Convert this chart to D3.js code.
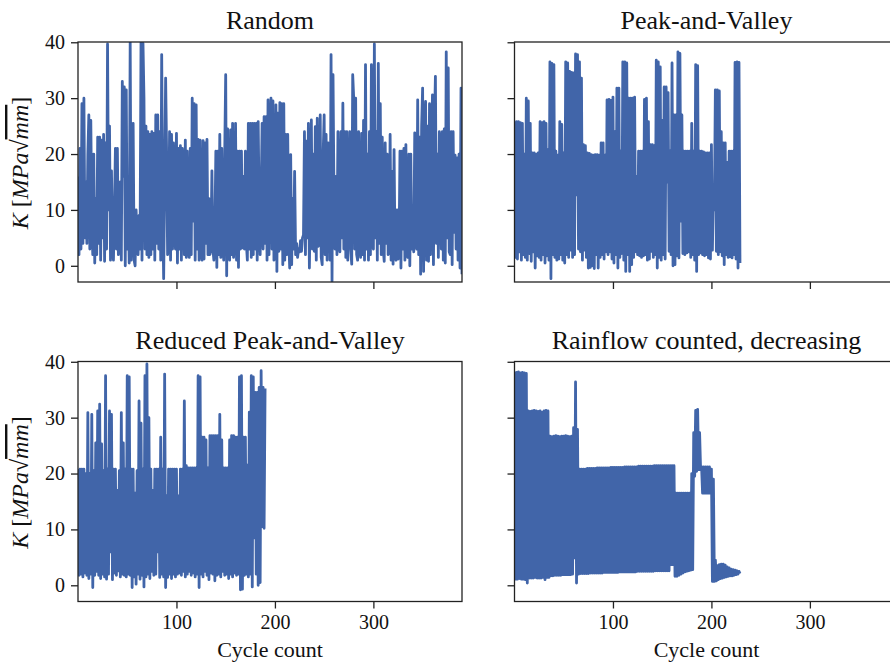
<!DOCTYPE html>
<html>
<head>
<meta charset="utf-8">
<script src="https://cdn.jsdelivr.net/npm/d3@7"></script>
<style>
  body { margin: 0; background: #fff; }
  text { font-family: "Liberation Serif", "DejaVu Serif", serif; fill: #111; }
</style>
</head>
<body>
<div id="chart"></div>
<script>
// load history, one value per cycle
const randomLoad = [
  16, 2, 21, 3, 29, 4, 30, 5, 15, 4,
  20, 27, 3, 26, 8, 2, 20, 0.5, 12, 2,
  23, 4, 23, 1, 22.5, 5, 23.5, 0.8, 22, 3,
  39.7, 10, 25, 1, 17, 4, 1, 10, 21, 3,
  21, 2, 4, 15, 1, 33, 16, 32, 0, 31.5,
  3, 12, 0.5, 40, 1, 6, 25.5, 1, 0, 10,
  5, 2, 9, 3, 40, 1, 39.8, 30, 3, 25,
  2, 24, 1.5, 23.5, 2, 24, 3, 23.7, 1, 27,
  4, 27, 3, 24, 1, 37.8, 10, -2.3, 15, 33.6,
  20, 2, 5, 24, 1, 23.5, 3, 22, 6, 3,
  23.7, 0.5, 21, 3, 21.5, 1, 21, 16, 2, 22.5,
  1.5, 20.5, 4, 1.5, 21, 2, 30, 8, 29, 1,
  28.8, 3, 22.6, 1, 22.5, 3, 1, 22.4, 1.2, 22,
  4, 22.6, 2, 12, 2, 3, 17, 3, 1, 6,
  20.5, -0.3, 20.5, 2, 23.5, 1.5, 21, 4, 1, 20,
  34.2, -1.8, 24.5, 3, 1, 24.3, 2, 25.5, 1.5, 6,
  25.5, 1, 20.5, -0.3, 20.5, 3, 20.5, 3.2, 16, 3,
  20.5, 4, 1, 25.5, 3, 25.5, 1.5, 25.5, 2, 25.5,
  3, 25.5, 1, 25.8, 10, 2, 13, 25.5, 3, 26.7,
  4, 26.7, 1, 29.7, 2, 23, 30, 3, 29.5, 1,
  2, 28.8, -1, 27.3, 2.6, 29.2, 3, 29, 0.2, 29,
  1, 23.5, 2, 23.5, 5, -0.4, 19.9, 0.2, 12, 3,
  16.9, 2, 4, 1.5, 3, 2.5, 4.5, 2.6, 5, 5.5,
  24, 2, 22.3, 5, 25.5, -0.4, 12, 26.1, 3, 20,
  2.6, 24.9, 1, 26.4, 3.5, 4, 27, 1.5, 0.2, 20,
  27, 2, 23.5, 1, 22, 17, 1, 37.8, -2.7, 34.2,
  12, 3, 16, 2, 24, 4, 2.5, 24, 5, 29.1,
  3, 24, 1.5, 24, 1, 12, 24, 3, 0.3, 34.2,
  30, 3, 30, 2, 1, 24, 4, 1.5, 23.7, 2,
  26, 1, 36, 3, 20, 1, 24, 2, 36, 4,
  3, 39.7, 5, 24, 1, 36.2, 4, 29, 2, 23,
  3, 0.8, 22, 4, 20, 2, 2.5, 23.5, 1, 16.9,
  0.3, 20.8, 2, 1, 10, 1.2, 2, 20.5, -0.4, 20.5,
  3, 21, 1, 21.7, 2, 1.5, 20, 0, 20, 3,
  5, 2.5, 23.8, 4, 3, 29.7, 2, 23, -1.5, 25,
  31.8, -1, 22, 29.4, 1, 25, 0.8, 29, 2, 20,
  30.6, 0.2, 25, 33.9, 4, 20, 1.5, 24, 22, 3,
  24, 1, 24.5, 0.5, 38.3, 5, 35.4, 2.5, 2, 24,
  0.2, 24, 6, 19.8, 3, 19.3, 1, 20, -0.4, 31.8, -1.5
];

// turning points: peaks and valleys alternate
const pvPeaks = [
  25.8, 25.8, 25.8, 25.6, 25.5, 20, 30, 29.5, 25.5, 20.2,
  20.2, 20, 20.2, 25.8, 25.6, 25.8, 25.5, 20.8, 36.5, 36.2,
  36, 20.5, 19.8, 25.8, 25.3, 20.2, 36.5, 36.3, 34.8, 34.6,
  34.5, 37.9, 37.8, 36.5, 33.6, 21.7, 21.5, 20.2, 20.1, 19.9,
  19.8, 19.9, 19.9, 19.8, 22, 22, 19.8, 29.7, 29.8, 29.6,
  30.2, 24, 31.8, 31.8, 20.5, 36.5, 36.5, 36.3, 30, 30,
  30, 30.2, 16, 20.5, 20.5, 20.5, 29.8, 30, 25.8, 21.7,
  21.7, 21.5, 36.8, 36.5, 35.6, 26, 32, 32, 31, 20.5,
  36.3, 27, 27, 38.3, 38, 27, 20.5, 20.5, 20.5, 20.5,
  25.5, 20.5, 36, 35.8, 20.5, 20.5, 20.4, 20.2, 20.2, 20.2,
  21.7, 14, 31.5, 31.5, 31.3, 24, 22, 22, 18.5, 20.5,
  20.5, 20.5, 36.4, 36.5, 36.4
];
const pvValleys = [
  1.5, 1.2, 2.5, 1.0, 2.0, 1.5, 1.0, 2.2, 0.8, 2.5,
  -0.4, 1.8, 1.5, 1.0, 2.0, 0.5, 1.8, 1.0, -2.3, 2.0,
  1.5, 1.0, 1.2, 2.0, 1.0, 0.5, 2.0, 1.5, 2.8, 1.5,
  2.0, 12.7, 3.0, 2.5, 1.0, 2.8, 1.5, -0.4, -0.3, 0,
  -0.5, 2.0, -0.4, 1.5, 2.0, 1.2, 2.5, 2.0, 2.5, 1.2,
  0.5, 2.0, -0.4, 1.5, 2.2, 1.0, -1.0, 2.0, -1.0, 0.2,
  1.5, 2.5, 2.0, 1.8, 1.5, 1.8, 2.0, 1.0, 1.2, 2.6,
  1.5, 2.0, -0.4, 1.5, 1.0, 2.0, 1.2, 15, 2.6, 2.0,
  0, 0.2, 1.8, 1.4, 8, 2.2, 2.0, 2.3, 2.5, 1.5,
  2.0, 1.0, -1.0, 2.0, 2.3, 2.0, 1.8, 2.0, 1.4, 1.2,
  2.8, 10, 2.6, 2.0, 2.5, 1.8, 0.2, 2.0, 1.5, 1.6,
  1.4, 2.0, 1.2, -0.4, 0.5
];

const reducedPeaks = [
  20.8, 20.8, 20.8, 20.8, 20, 30.9, 20, 30.6, 20.5, 25.5,
  31.2, 32.4, 25.3, 20.5, 37.5, 20.8, 31.2, 30.6, 20.8, 20.8,
  17, 20.5, 30.9, 25.5, 20.8, 37.5, 37.3, 20.8, 20.8, 16.5,
  20.5, 33, 29, 20.8, 37.5, 39.6, 30, 20.8, 17, 20.8,
  20.8, 20.8, 26.5, 20.8, 37.8, 16, 20.8, 20.8, 20.8, 20.8,
  20.8, 16, 20.8, 20.8, 33, 21.4, 21, 21, 21, 21,
  21, 37.5, 37.3, 26.5, 26.5, 26, 21, 26.8, 26.8, 26.8,
  26.8, 26.8, 30.6, 26, 21, 21, 21, 26, 26.8, 26.8,
  26.5, 26.5, 37.3, 37.5, 26.5, 26.5, 21.5, 31, 37.5, 37.3,
  34.5, 34.5, 35.4, 38.4, 35.4, 35.2
];
const reducedValleys = [
  1.8, 2.0, 1.5, 2.2, 1.8, 1.2, 2.0, -0.4, 1.8, 2.5,
  1.8, 1.2, 2.0, 1.5, 1.1, 2.0, 6, 1.0, 2.2, 1.8,
  2.6, 1.5, 2.0, 1.8, 1.5, 2.0, 1.8, -0.4, 1.5, 0.2,
  2.0, 1.1, 1.8, -0.3, 1.5, 2.0, 1.2, 2.5, 1.8, 2.0,
  6, 1.4, 2.0, 1.5, -0.4, 1.4, 2.0, 1.2, 2.0, 1.5,
  2.0, 2.2, 1.8, 2.5, 1.5, 2.0, 2.5, 1.8, 2.2, 1.5,
  2.0, -0.4, 2.0, 1.5, 2.5, 1.8, 1.0, 2.2, 2.0, 0.8,
  1.8, 2.0, 1.5, 2.5, 1.8, 2.0, 1.2, 2.0, 1.5, 2.2,
  1.8, 2.0, -0.8, -0.7, 1.8, 2.0, 1.5, 2.0, -0.3, 8.5,
  2.0, 0.0, 0.5, 10.5, 10.2
];

const rainflowPeaks = [
  38.2, 38.1, 38.2, 38.0, 38.1, 38.0, 37.9,
  31.2, 31.1, 31.2, 31.3, 31.2, 31.1, 31.2, 31.0, 31.2, 31.3, 31.2,
  26.7, 26.6, 26.7, 26.8, 26.7, 26.6, 26.7, 26.7, 26.8, 26.7, 26.6, 26.7,
  28.2, 36.4, 27.9,
  20.8, 20.8, 20.8, 20.8, 20.9, 20.9, 20.9, 20.9, 20.9, 21.0,
  21.0, 21.0, 21.0, 21.0, 21.0, 21.0, 21.1, 21.1, 21.1, 21.1,
  21.1, 21.1, 21.1, 21.2, 21.2, 21.2, 21.2, 21.2, 21.2, 21.2,
  21.3, 21.3, 21.3, 21.3, 21.3, 21.3, 21.3, 21.3, 21.4, 21.4,
  21.4, 21.4, 21.4, 21.4, 21.4, 21.4, 21.4, 21.4, 21.4,
  16.5, 16.5, 16.5, 16.5, 16.5, 16.5, 16.5, 16.5,
  20, 27.3, 31.3, 31.5, 27.3,
  21.2, 21.2, 21.2, 21.2, 21.2,
  20.8, 19, 4.5,
  3.5, 3.7, 3.8, 3.8, 3.6, 3.3, 3.1, 2.9, 2.8, 2.7, 2.6, 2.5
];
const rainflowValleys = [
  1.1, 1.1, 1.2, 1.1, 1.1, 1.0, 0.4,
  1.3, 1.3, 1.3, 1.4, 1.3, 1.3, 1.3, 1.4, 1.0, 1.4, 1.4,
  1.7, 1.7, 1.8, 1.8, 1.8, 1.8, 1.9, 1.9, 1.9, 1.9, 1.9, 2.0,
  4.9, 0.4, 2.0,
  2.1, 2.1, 2.1, 2.1, 2.1, 2.2, 2.2, 2.2, 2.2, 2.2,
  2.2, 2.2, 2.3, 2.3, 2.3, 2.3, 2.3, 2.3, 2.3, 2.3,
  2.4, 2.4, 2.4, 2.4, 2.4, 2.4, 2.4, 2.4, 2.4, 2.5,
  2.5, 2.5, 2.5, 2.5, 2.5, 2.5, 2.5, 2.5, 2.6, 2.6,
  2.6, 2.6, 2.6, 2.6, 2.6, 2.6, 3.7, 3.7, 1.6,
  1.6, 1.8, 2.0, 2.2, 2.4, 2.5, 2.6, 2.7,
  2.8, 19.5, 20.4, 20.7, 20.7,
  16.5, 16.5, 16.5, 16.5, 16.5,
  0.7, 0.7, 0.8,
  1.0, 1.2, 1.3, 1.4, 1.5, 1.6, 1.7, 1.7, 1.8, 1.9, 2.0, 2.1
];

const titles = ["Random", "Peak-and-Valley", "Reduced Peak-and-Valley", "Rainflow counted, decreasing"];
const xTicks = [100, 200, 300];
const yTicks = [0, 10, 20, 30, 40];

function alternate(peaks, valleys) {
  const out = [];
  peaks.forEach((p, i) => {
    out.push(p);
    if (i < valleys.length) out.push(valleys[i]);
  });
  return out;
}

const series = [
  randomLoad,
  alternate(pvPeaks, pvValleys),
  alternate(reducedPeaks, reducedValleys),
  alternate(rainflowPeaks, rainflowValleys)
];

const W = 890, H = 664;
const plotW = 384, plotH = 240;
const colX = [78, 514.5], rowY = [42, 361.5];
const lineColor = "#4165a9";

const svg = d3.select("#chart").append("svg")
  .attr("width", W)
  .attr("height", H);

const x = d3.scaleLinear().domain([0, 390]).range([0, plotW]);
const y = d3.scaleLinear().domain([-2.9, 40.05]).range([plotH, 0]);

const line = d3.line()
  .x((d, i) => x(i))
  .y(d => y(d));

series.forEach((values, p) => {
  const col = p % 2, row = Math.floor(p / 2);
  const g = svg.append("g")
    .attr("transform", `translate(${colX[col]},${rowY[row]})`);

  g.append("clipPath").attr("id", "clip" + p)
    .append("rect").attr("width", plotW).attr("height", plotH);

  g.append("path")
    .datum(values)
    .attr("clip-path", `url(#clip${p})`)
    .attr("fill", "none")
    .attr("stroke", lineColor)
    .attr("stroke-width", 2.8)
    .attr("stroke-linejoin", "round")
    .attr("d", line);

  const yAxis = g.append("g")
    .call(d3.axisLeft(y).tickValues(yTicks).tickSize(7).tickPadding(6)
      .tickFormat(col === 0 ? d3.format("d") : () => ""));
  const xAxis = g.append("g")
    .attr("transform", `translate(0,${plotH})`)
    .call(d3.axisBottom(x).tickValues(xTicks).tickSize(7).tickPadding(6)
      .tickFormat(row === 1 ? d3.format("d") : () => ""));
  [yAxis, xAxis].forEach(a => {
    a.attr("font-size", 20).attr("font-family", null);
    a.select(".domain").remove();
    a.selectAll(".tick line").attr("stroke", "#222").attr("stroke-width", 1.3);
    a.selectAll(".tick text").attr("fill", "#111");
  });

  g.append("rect")
    .attr("width", plotW).attr("height", plotH)
    .attr("fill", "none")
    .attr("stroke", "#222")
    .attr("stroke-width", 1.3);

  g.append("text")
    .attr("x", plotW / 2).attr("y", -13)
    .attr("text-anchor", "middle")
    .attr("font-size", 26)
    .text(titles[p]);

  if (row === 1) {
    g.append("text")
      .attr("x", plotW / 2).attr("y", plotH + 55)
      .attr("text-anchor", "middle")
      .attr("font-size", 22)
      .text("Cycle count");
  }

  if (col === 0) {
    const lab = svg.append("text")
      .attr("transform", `translate(28,${rowY[row] + 121}) rotate(-90)`)
      .attr("text-anchor", "middle")
      .attr("font-size", 24);
    lab.append("tspan").attr("font-style", "italic").text("K");
    lab.append("tspan").text(" [");
    lab.append("tspan").attr("font-style", "italic").text("MPa");
    lab.append("tspan").text("\u221A");
    lab.append("tspan").attr("font-style", "italic")
      .attr("text-decoration", "overline").text("mm");
    lab.append("tspan").text("]");
  }
});
</script>
</body>
</html>
